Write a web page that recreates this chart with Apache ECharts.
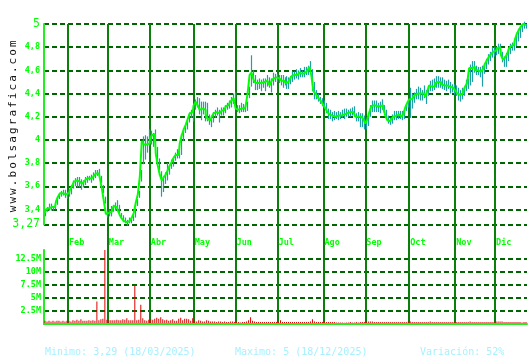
<!DOCTYPE html>
<html><head><meta charset="utf-8">
<script src="https://cdn.jsdelivr.net/npm/echarts@6/dist/echarts.min.js"></script>
<style>html,body{margin:0;padding:0;background:#fff}#c{width:530px;height:360px}</style>
</head><body><div id="c"></div>
<script>
// ---- data ----
const monthNames = ['Ene','Feb','Mar','Abr','May','Jun','Jul','Ago','Sep','Oct','Nov','Dic'];
const firstDay = [2025, 0, 16];
const lastDay = [2025, 11, 22];
const holidays = ['2025-05-01'];

// daily closes, one row per month
const closes = [
  3.37,3.40,3.41,3.42,3.41,3.42,3.47,3.51,3.54,3.54,3.53,3.53,
  3.54,3.57,3.60,3.64,3.65,3.64,3.64,3.62,3.64,3.66,3.67,3.67,3.68,3.69,3.71,3.71,3.67,3.58,3.47,3.36,
  3.37,3.38,3.40,3.43,3.42,3.39,3.35,3.32,3.30,3.29,3.30,3.31,3.33,3.37,3.46,3.53,3.68,3.99,3.96,3.96,3.97,
  4.00,4.04,4.05,3.88,3.78,3.70,3.65,3.68,3.70,3.74,3.78,3.81,3.85,3.87,3.87,3.97,4.04,4.09,4.13,4.18,4.23,4.24,
  4.30,4.33,4.30,4.26,4.27,4.26,4.22,4.18,4.17,4.20,4.23,4.24,4.23,4.24,4.25,4.26,4.29,4.30,4.32,4.34,4.36,
  4.27,4.26,4.27,4.27,4.27,4.29,4.40,4.56,4.58,4.52,4.49,4.49,4.49,4.50,4.50,4.51,4.50,4.47,4.51,4.53,4.54,
  4.53,4.52,4.51,4.51,4.49,4.50,4.52,4.55,4.56,4.56,4.57,4.58,4.57,4.58,4.59,4.60,4.63,4.55,4.42,4.40,4.37,4.35,4.33,
  4.30,4.27,4.24,4.22,4.21,4.20,4.21,4.21,4.21,4.22,4.22,4.23,4.23,4.24,4.24,4.23,4.20,4.20,4.20,4.19,4.18,
  4.14,4.18,4.24,4.29,4.30,4.29,4.28,4.29,4.30,4.27,4.21,4.17,4.16,4.18,4.20,4.21,4.22,4.21,4.20,4.22,4.28,4.32,
  4.35,4.35,4.37,4.39,4.40,4.40,4.39,4.40,4.37,4.42,4.47,4.46,4.46,4.49,4.50,4.50,4.48,4.47,4.47,4.47,4.46,4.45,4.44,
  4.43,4.40,4.39,4.40,4.42,4.46,4.49,4.62,4.62,4.63,4.60,4.60,4.59,4.60,4.61,4.66,4.69,4.72,4.74,4.76,
  4.77,4.79,4.80,4.73,4.69,4.71,4.74,4.79,4.81,4.82,4.87,4.92,4.95,4.98,5.00,4.99
];
// daily high above close (cents)
const wickUp = [
  3,2,4,3,2,3,4,3,2,3,4,2,
  3,4,5,3,3,4,2,3,4,3,2,3,4,5,3,4,2,3,4,3,
  3,5,4,3,6,5,2,3,3,2,3,2,3,4,3,3,6,4,8,7,12,
  8,2,4,6,6,3,3,4,10,4,5,3,4,5,3,8,6,4,3,5,3,6,
  5,4,6,7,6,7,10,4,3,4,3,4,3,4,3,4,3,4,5,6,5,
  3,4,5,4,3,4,6,17,2,4,3,4,3,3,3,5,4,6,7,4,3,
  3,4,5,3,6,4,3,4,3,5,3,4,3,5,4,4,5,6,8,3,3,2,3,
  4,5,3,4,3,5,3,4,3,4,5,4,3,3,4,6,3,4,3,4,3,
  3,5,6,5,4,5,4,4,5,3,5,4,3,4,5,4,3,4,5,4,3,3,
  10,5,4,5,6,5,4,7,6,5,4,6,7,6,5,4,6,5,4,5,4,3,4,
  4,5,4,5,4,6,4,3,6,5,4,3,4,4,5,4,5,4,6,4,
  3,4,3,3,3,4,5,4,3,4,3,4,3,2,2,1
];
// daily low below close (cents)
const wickDown = [
  3,2,2,3,2,2,3,2,3,2,3,4,
  3,4,2,4,6,5,7,3,3,3,2,4,3,2,2,3,4,4,2,3,
  3,4,2,4,3,3,2,3,2,3,2,3,3,4,3,3,4,20,13,7,2,
  4,10,8,10,4,19,10,6,5,4,3,4,3,3,3,10,5,3,4,3,4,8,
  4,5,8,9,5,10,6,5,6,5,4,3,8,3,4,3,3,3,4,3,3,
  3,3,3,3,3,4,4,10,9,9,6,5,7,5,8,5,5,6,4,3,4,
  4,5,6,4,5,6,4,5,4,3,5,4,3,4,3,4,3,13,7,5,4,4,4,
  3,4,6,4,5,3,3,4,3,3,4,3,3,4,3,3,4,4,9,8,9,
  5,6,4,5,6,5,4,6,4,4,3,3,3,4,3,4,4,3,3,4,3,4,
  16,8,5,4,5,6,5,4,6,4,5,4,3,4,5,5,4,4,5,3,6,4,5,
  5,6,6,5,4,4,5,15,12,5,4,4,5,14,4,5,4,4,3,4,
  4,5,7,6,6,8,6,5,4,5,6,7,7,5,4,3
];
// daily volume, millions
const volumes = [
  0.6,0.5,0.6,0.5,0.6,0.5,0.6,0.6,0.5,0.6,0.5,0.6,
  0.6,0.5,0.7,0.6,0.8,0.6,0.9,0.6,0.6,0.6,0.7,0.6,0.7,0.6,4.3,0.7,0.9,1.0,14.5,0.8,
  0.7,0.7,0.7,0.7,0.8,0.7,0.7,0.9,0.8,1.1,0.7,0.7,0.7,7.5,0.7,0.8,3.7,1.1,0.7,0.6,0.8,
  0.9,0.8,1.0,1.2,1.0,1.3,0.9,0.7,0.8,0.6,0.7,0.9,0.6,0.6,1.0,1.2,0.7,1.0,1.0,0.9,0.6,1.1,
  0.6,0.5,0.7,0.6,0.5,0.5,0.7,0.6,0.5,0.5,0.5,0.4,0.5,0.5,0.4,0.5,0.4,0.4,0.5,0.5,0.4,
  0.4,0.4,0.3,0.4,0.4,0.5,0.7,1.3,0.6,0.5,0.4,0.4,0.4,0.4,0.4,0.4,0.4,0.4,0.4,0.4,0.4,
  0.4,0.7,0.4,0.4,0.4,0.4,0.4,0.4,0.4,0.4,0.4,0.4,0.4,0.4,0.4,0.4,0.5,0.9,0.5,0.4,0.4,0.4,0.4,
  0.4,0.4,0.4,0.4,0.4,0.4,0.3,0.3,0.3,0.3,0.25,0.3,0.3,0.4,0.3,0.3,0.4,0.3,0.4,0.4,0.4,
  0.5,0.5,0.5,0.5,0.4,0.4,0.4,0.4,0.4,0.4,0.4,0.4,0.4,0.4,0.4,0.4,0.4,0.4,0.4,0.4,0.4,0.5,
  0.5,0.4,0.4,0.4,0.4,0.4,0.4,0.4,0.4,0.4,0.5,0.4,0.4,0.4,0.4,0.4,0.4,0.4,0.4,0.4,0.4,0.4,0.4,
  0.4,0.4,0.4,0.4,0.4,0.4,0.4,0.5,0.4,0.4,0.4,0.4,0.4,0.4,0.4,0.4,0.4,0.4,0.4,0.4,
  0.5,0.5,0.5,0.5,0.4,0.4,0.4,0.4,0.4,0.4,0.4,0.4,0.4,0.3,0.4,0.4
];
const priceTicks = [3.27,3.4,3.6,3.8,4,4.2,4.4,4.6,4.8,5];
const volumeTicks = [2.5,5,7.5,10,12.5];
const footer = ['Minimo: 3,29 (18/03/2025)', 'Maximo: 5 (18/12/2025)', 'Variación: 52%'];
const watermark = 'www.bolsagrafica.com';

// ---- build ----
function tradingDays() {
  const out = [];
  let t = Date.UTC(firstDay[0], firstDay[1], firstDay[2]);
  const end = Date.UTC(lastDay[0], lastDay[1], lastDay[2]);
  while (t <= end) {
    const d = new Date(t);
    const wd = d.getUTCDay();
    const s = d.toISOString().slice(0, 10);
    if (wd !== 0 && wd !== 6 && holidays.indexOf(s) < 0) out.push(s);
    t += 86400000;
  }
  return out;
}
const dates = tradingDays();
const monthOf = s => parseInt(s.slice(5, 7), 10) - 1;
const isMonthStart = i => i > 0 && i < dates.length && monthOf(dates[i]) !== monthOf(dates[i - 1]);

const wickData = dates.map((d, i) => [i, +(closes[i] - wickDown[i] / 100).toFixed(2), +(closes[i] + wickUp[i] / 100).toFixed(2)]);
const volData = volumes.map(v => v * 1e6);

const GREEN = '#00ff00';
const AXIS = '#22ee22';
const DASH = '#006400';
const MONTHLINE = '#0a800a';
const FONT = 'DejaVu Sans Mono';

const chart = echarts.init(document.getElementById('c'), null, {renderer: 'canvas'});

const graphics = [];
for (let k = 0; k < watermark.length; k++) {
  graphics.push({
    type: 'text', x: 13, y: 209 - k * 8.7, rotation: Math.PI / 2, silent: true,
    style: {text: watermark[k], font: '11px ' + FONT, fill: '#111', align: 'center', verticalAlign: 'middle'}
  });
}
const footX = [45, 235, 420];
footer.forEach((t, i) => graphics.push({
  type: 'text', x: footX[i], y: 352, silent: true,
  style: {text: t, font: '10px ' + FONT, fill: '#a8f0ff', verticalAlign: 'middle'}
}));

chart.setOption({
  animation: false,
  backgroundColor: '#fff',
  grid: [
    {left: 44, right: 3, top: 24, height: 200.5},
    {left: 44, right: 3, top: 250, height: 74},
    {left: 44, right: 3, top: 24, height: 301}
  ],
  xAxis: [
    {type: 'category', gridIndex: 0, data: dates, boundaryGap: true,
     axisLine: {show: false}, axisTick: {show: false}, splitLine: {show: false},
     axisLabel: {interval: (i) => isMonthStart(i), formatter: (v) => monthNames[monthOf(v)],
       align: 'left', margin: 14, color: GREEN, fontFamily: FONT, fontWeight: 'bold', fontSize: 8.5}},
    {type: 'category', gridIndex: 1, data: dates, boundaryGap: true, offset: 1, z: 5,
     axisLine: {show: true, lineStyle: {color: AXIS, width: 2}}, axisTick: {show: false},
     axisLabel: {show: false}, splitLine: {show: false}},
    {type: 'category', gridIndex: 2, data: dates, boundaryGap: true,
     axisLine: {show: false}, axisTick: {show: false}, axisLabel: {show: false},
     splitLine: {show: true, showMaxLine: false, interval: (i) => isMonthStart(i),
       lineStyle: {color: MONTHLINE, width: 2}}}
  ],
  yAxis: [
    {type: 'value', gridIndex: 0, min: 3.27, max: 5,
     axisLine: {show: true, lineStyle: {color: AXIS, width: 2}},
     axisTick: {show: false, customValues: priceTicks},
     splitLine: {show: true, lineStyle: {color: DASH, width: 2, type: [5, 3]}},
     axisLabel: {customValues: priceTicks, margin: 4, color: GREEN, fontFamily: FONT, fontWeight: 'bold', fontSize: 8.5,
       formatter: (v) => {
         const s = String(+v.toFixed(2)).replace('.', ',');
         return (v === 5 || Math.abs(v - 3.27) < 1e-6) ? '{big|' + s + '}' : s;
       },
       rich: {big: {fontSize: 11.5, fontFamily: FONT, fontWeight: 'normal', color: GREEN}}}},
    {type: 'value', gridIndex: 1, min: 0, max: 14.2e6,
     axisLine: {show: true, lineStyle: {color: AXIS, width: 2}},
     axisTick: {show: false, customValues: volumeTicks.map(v => v * 1e6)},
     splitLine: {show: true, lineStyle: {color: DASH, width: 2, type: [5, 3]}},
     axisLabel: {customValues: volumeTicks.map(v => v * 1e6), margin: 3, color: GREEN, fontFamily: FONT, fontWeight: 'bold', fontSize: 8.5,
       formatter: (v) => (v / 1e6) + 'M'}},
    {type: 'value', gridIndex: 2, show: false, min: 0, max: 1,
     splitLine: {show: false}}
  ],
  series: [
    {type: 'custom', xAxisIndex: 0, yAxisIndex: 0, data: wickData, z: 2, silent: true,
     encode: {x: 0, y: [1, 2]},
     renderItem: (params, api) => {
       const lo = api.coord([api.value(0), api.value(1)]);
       const hi = api.coord([api.value(0), api.value(2)]);
       const x = Math.round(lo[0]) + 0.5;
       return {type: 'line', shape: {x1: x, y1: lo[1], x2: x, y2: hi[1]},
               style: {stroke: '#1fa0a8', lineWidth: 1.2}};
     }},
    {type: 'line', xAxisIndex: 0, yAxisIndex: 0, data: closes, step: 'middle', z: 3,
     symbol: 'none', silent: true, lineStyle: {color: GREEN, width: 2}},
    {type: 'bar', xAxisIndex: 1, yAxisIndex: 1, data: volData, barWidth: 1, silent: true,
     itemStyle: {color: '#dd0000'}}
  ],
  graphic: graphics
});
</script>
</body></html>
